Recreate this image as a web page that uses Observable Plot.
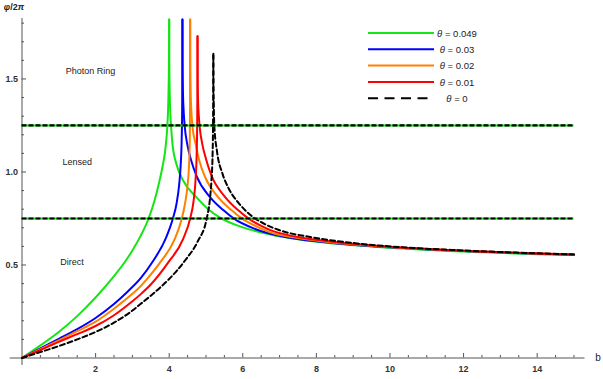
<!DOCTYPE html>
<html><head><meta charset="utf-8">
<script src="https://cdn.jsdelivr.net/npm/d3@7"></script>
<script src="https://cdn.jsdelivr.net/npm/@observablehq/plot@0.6"></script>
<style>body{margin:0;background:#fff;font-family:"Liberation Sans",Arial,sans-serif}</style>
</head><body><div id="chart"></div>
<script>
const thetas = ["0.049", "0.03", "0.02", "0.01", "0"];
const colors = ["#14e614", "#0000ff", "#ff8000", "#ff0000", "#000000"];

const greenRise = [[0,0],[0.5,0.068],[1,0.14],[1.5,0.225],[2,0.325],[2.5,0.44],[2.81,0.52],[3.0,0.578],[3.22,0.655],[3.44,0.75],[3.6,0.845],[3.71,0.93],[3.83,1.04],[3.9,1.13],[3.95,1.25],[3.98,1.41],[3.995,1.62],[4.0,1.82]];
const greenFall = [[4.0,1.82],[4.003,1.6],[4.015,1.42],[4.03,1.32],[4.05,1.25],[4.09,1.15],[4.2,1.04],[4.39,0.95],[4.75,0.862],[5.06,0.8],[5.38,0.755],[5.96,0.705],[6.75,0.664],[7.5,0.638],[8.5,0.615],[10,0.592],[12,0.572],[15,0.553]];
const blueRise = [[0,0],[0.5,0.051],[1,0.103],[1.5,0.155],[2,0.215],[2.5,0.29],[2.86,0.355],[3.22,0.428],[3.54,0.515],[3.9,0.64],[4.1,0.75],[4.2,0.83],[4.27,0.93],[4.31,1.03],[4.34,1.18],[4.352,1.33],[4.358,1.57],[4.36,1.82]];
const blueFall = [[4.36,1.82],[4.363,1.6],[4.375,1.42],[4.395,1.32],[4.42,1.25],[4.5,1.14],[4.6,1.06],[4.75,0.975],[5.11,0.865],[5.47,0.795],[5.74,0.752],[6.32,0.695],[6.75,0.668],[7.5,0.64],[8.5,0.617],[10,0.595],[12,0.575],[15,0.555]];
const orangeRise = [[0,0],[0.5,0.047],[1,0.095],[1.5,0.144],[2,0.195],[2.5,0.265],[3.0,0.345],[3.22,0.385],[3.4,0.425],[3.76,0.515],[4.14,0.635],[4.33,0.74],[4.43,0.83],[4.5,0.93],[4.54,1.04],[4.56,1.18],[4.567,1.35],[4.57,1.82]];
const orangeFall = [[4.57,1.82],[4.573,1.6],[4.585,1.42],[4.605,1.32],[4.63,1.25],[4.72,1.15],[4.82,1.06],[4.97,0.975],[5.33,0.865],[5.69,0.795],[5.96,0.752],[6.4,0.705],[6.75,0.675],[7.5,0.645],[8.5,0.62],[10,0.597],[12,0.576],[15,0.556]];
const redRise = [[0,0],[0.5,0.043],[1,0.087],[1.5,0.128],[2,0.172],[2.5,0.23],[3.0,0.305],[3.22,0.342],[3.5,0.395],[3.98,0.515],[4.38,0.64],[4.57,0.75],[4.66,0.84],[4.72,0.97],[4.75,1.12],[4.762,1.29],[4.768,1.5],[4.77,1.73]];
const redFall = [[4.77,1.73],[4.773,1.52],[4.785,1.38],[4.805,1.3],[4.83,1.24],[4.9,1.15],[5.0,1.07],[5.15,0.98],[5.51,0.868],[5.87,0.795],[6.14,0.752],[6.5,0.71],[6.75,0.687],[7.5,0.65],[8.5,0.624],[10,0.598],[12,0.577],[15,0.556]];
const blackRise = [[0,0],[0.5,0.032],[1,0.064],[1.5,0.1],[2,0.14],[2.5,0.19],[3.0,0.255],[3.22,0.29],[3.5,0.335],[3.76,0.38],[4.0,0.425],[4.43,0.524],[4.77,0.625],[5.02,0.75],[5.11,0.86],[5.15,0.96],[5.18,1.1],[5.193,1.28],[5.198,1.45],[5.2,1.636]];
const blackFall = [[5.2,1.636],[5.203,1.48],[5.212,1.36],[5.226,1.25],[5.3,1.11],[5.45,0.99],[5.62,0.91],[5.9,0.83],[6.2,0.77],[6.5,0.73],[7.0,0.687],[7.9,0.648],[9.0,0.618],[10,0.6],[12,0.578],[15,0.557]];

const regionLines = [0.75, 1.25];
const regionLabels = [
  {text: "Photon Ring", b: 1.86, phi: 1.542},
  {text: "Lensed", b: 1.5, phi: 1.051},
  {text: "Direct", b: 1.36, phi: 0.518}
];
const xMajor = [2, 4, 6, 8, 10, 12, 14];
const yMajor = [0.5, 1.0, 1.5];

const branches = [
  [0, greenRise], [0, greenFall],
  [1, blueRise], [1, blueFall],
  [2, orangeRise], [2, orangeFall],
  [3, redRise], [3, redFall],
  [4, blackRise], [4, blackFall]
];
const rows = branches.flatMap(([k, pts], i) => pts.map(([b, phi]) => ({k, id: i, b, phi})));
const solidRows = rows.filter(d => d.k < 4);
const dashRows = rows.filter(d => d.k === 4);

const xMinor = d3.range(0.5, 15.01, 0.5).filter(v => !xMajor.includes(v));
const yMinor = d3.range(0.1, 1.81, 0.1).map(v => +v.toFixed(2)).filter(v => !yMajor.includes(v));

const pxY = 1.825 / 339.5, pxX = 15.3 / 563;
const axisColor = "#555";

const chart = Plot.plot({
  width: 603, height: 379,
  marginLeft: 21.5, marginRight: 18.5, marginTop: 18, marginBottom: 21.5,
  x: {domain: [0, 15.3], axis: null},
  y: {domain: [0, 1.825], axis: null},
  style: {fontFamily: "'Liberation Sans', Arial, sans-serif", background: "#fff"},
  marks: [
    Plot.ruleY([0], {x1: -0.32, x2: 15.3, stroke: axisColor, strokeWidth: 1}),
    Plot.ruleX([0], {y1: -0.04, y2: 1.825, stroke: axisColor, strokeWidth: 1}),
    Plot.ruleX(xMajor, {x: d => d, y1: 0, y2: 4.5 * pxY, stroke: axisColor}),
    Plot.ruleX(xMinor, {x: d => d, y1: 0, y2: 2.5 * pxY, stroke: axisColor}),
    Plot.ruleY(yMajor, {y: d => d, x1: 0, x2: 4.5 * pxX, stroke: axisColor}),
    Plot.ruleY(yMinor, {y: d => d, x1: 0, x2: 2.5 * pxX, stroke: axisColor}),
    Plot.text(xMajor, {x: d => d, y: 0, dy: 11, text: d => String(d), fontSize: 9, fontWeight: "bold", fill: "#333"}),
    Plot.text(yMajor, {x: 0, y: d => d, dx: -4, textAnchor: "end", text: d => d.toFixed(1), fontSize: 9, fontWeight: "bold", fill: "#333"}),
    Plot.text(["b"], {x: 15.3, y: 0, dx: 13, text: d => d, fontSize: 10, fill: "#222"}),
    Plot.line(solidRows, {x: "b", y: "phi", z: "id", stroke: d => colors[d.k], strokeWidth: 2, curve: "monotone-x"}),
    Plot.line(dashRows, {x: "b", y: "phi", z: "id", stroke: colors[4], strokeWidth: 2, strokeDasharray: "5,3", curve: "monotone-x"}),
    Plot.ruleY(regionLines, {x1: 0, x2: 15, stroke: colors[0], strokeWidth: 2}),
    Plot.ruleY(regionLines, {x1: 0, x2: 15, stroke: "#000", strokeWidth: 2.2, strokeDasharray: "5,2"}),
    Plot.text(regionLabels, {x: "b", y: "phi", text: "text", fontSize: 9, fill: "#222"})
  ]
});
document.getElementById("chart").appendChild(chart);

const svg = d3.select(chart);
const yl = svg.append("text").attr("x", 14).attr("y", 10).attr("text-anchor", "middle")
  .attr("font-size", 9).attr("font-weight", "bold").attr("fill", "#222");
yl.append("tspan").attr("font-style", "italic").text("φ");
yl.append("tspan").text("/2");
yl.append("tspan").attr("font-style", "italic").text("π");

const legY = [33, 49.3, 65.6, 82, 98.3];
const leg = svg.append("g");
thetas.forEach((t, i) => {
  leg.append("line").attr("x1", 368).attr("x2", 434).attr("y1", legY[i]).attr("y2", legY[i])
    .attr("stroke", colors[i]).attr("stroke-width", 2)
    .attr("stroke-dasharray", i === 4 ? "10,6.5" : null);
  const tx = leg.append("text").attr("x", 457).attr("y", legY[i] + 3.5)
    .attr("font-size", 9.5).attr("fill", "#222");
  tx.append("tspan").attr("font-style", "italic").text("θ");
  tx.append("tspan").text(" = " + t);
});
</script>
</body></html>
